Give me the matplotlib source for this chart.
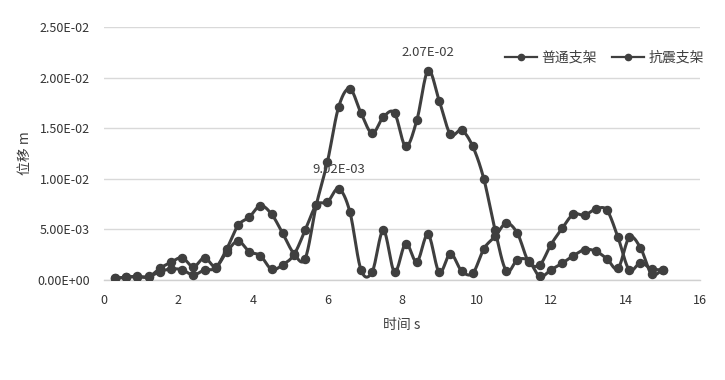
import numpy as np
import matplotlib
matplotlib.use("Agg")
import matplotlib.pyplot as plt
from matplotlib.ticker import FuncFormatter

plt.rcParams['font.family'] = ['Noto Sans CJK SC', 'DejaVu Sans']

# time (s)
time_s = [0.3, 0.6, 0.9, 1.2, 1.5, 1.8, 2.1, 2.4, 2.7, 3.0,
          3.3, 3.6, 3.9, 4.2, 4.5, 4.8, 5.1, 5.4, 5.7, 6.0,
          6.3, 6.6, 6.9, 7.2, 7.5, 7.8, 8.1, 8.4, 8.7, 9.0,
          9.3, 9.6, 9.9, 10.2, 10.5, 10.8, 11.1, 11.4, 11.7, 12.0,
          12.3, 12.6, 12.9, 13.2, 13.5, 13.8, 14.1, 14.4, 14.7, 15.0]

# displacement in units of 1e-3 m
ordinary_e3 = [0.15, 0.3, 0.3, 0.35, 0.8, 1.1, 1.0, 0.5, 1.0, 1.2,
               3.1, 5.4, 6.2, 7.34, 6.5, 4.6, 2.6, 2.1, 7.4, 11.7,
               17.1, 18.9, 16.5, 14.5, 16.1, 16.5, 13.2, 15.8, 20.7, 17.7,
               14.4, 14.8, 13.2, 9.95, 4.9, 0.9, 2.0, 1.9, 0.35, 1.0,
               1.65, 2.4, 3.0, 2.85, 2.1, 1.15, 4.2, 3.2, 0.6, 1.0]
seismic_e3 = [0.15, 0.3, 0.35, 0.3, 1.15, 1.75, 2.2, 1.3, 2.2, 1.3,
              2.8, 3.85, 2.8, 2.4, 1.06, 1.5, 2.5, 4.9, 7.4, 7.7,
              9.02, 6.75, 1.0, 0.8, 4.9, 0.8, 3.6, 1.8, 4.5, 0.76,
              2.6, 0.9, 0.66, 3.1, 4.3, 5.6, 4.6, 1.8, 1.5, 3.5,
              5.1, 6.5, 6.4, 7.0, 6.9, 4.2, 1.0, 1.7, 1.1, 1.0]

series_names = ['普通支架', '抗震支架']
x_ticks = [0, 2, 4, 6, 8, 10, 12, 14, 16]
y_ticks = [0.0, 0.005, 0.01, 0.015, 0.02, 0.025]
x_label = '时间 s'
y_label = '位移 m'

color = '#3f3f3f'


def smooth(x, y, n=16, tension=0.5):
    """Catmull-Rom style smoothing (like Excel's smoothed line)."""
    x = np.asarray(x, float)
    y = np.asarray(y, float)
    px = np.concatenate([[2 * x[0] - x[1]], x, [2 * x[-1] - x[-2]]])
    py = np.concatenate([[2 * y[0] - y[1]], y, [2 * y[-1] - y[-2]]])
    xs, ys = [], []
    s = np.linspace(0, 1, n, endpoint=False)
    for i in range(1, len(px) - 2):
        p0x, p1x, p2x, p3x = px[i - 1], px[i], px[i + 1], px[i + 2]
        p0y, p1y, p2y, p3y = py[i - 1], py[i], py[i + 1], py[i + 2]
        m1x, m2x = tension * (p2x - p0x), tension * (p3x - p1x)
        m1y, m2y = tension * (p2y - p0y), tension * (p3y - p1y)
        h00 = 2 * s**3 - 3 * s**2 + 1
        h10 = s**3 - 2 * s**2 + s
        h01 = -2 * s**3 + 3 * s**2
        h11 = s**3 - s**2
        xs.append(h00 * p1x + h10 * m1x + h01 * p2x + h11 * m2x)
        ys.append(h00 * p1y + h10 * m1y + h01 * p2y + h11 * m2y)
    xs.append([x[-1]])
    ys.append([y[-1]])
    return np.concatenate(xs), np.concatenate(ys)


fig = plt.figure(figsize=(7.25, 3.8), dpi=100)
ax = fig.add_axes([0.1434, 0.2632, 0.8221, 0.6657])

handles = []
for name, vals in zip(series_names, [ordinary_e3, seismic_e3]):
    v = np.asarray(vals) * 1e-3
    sx, sy = smooth(time_s, v)
    ax.plot(sx, sy, color=color, lw=2.2, solid_capstyle='round', zorder=3)
    ax.plot(time_s, v, 'o', color=color, ms=5.8, zorder=4)
    h, = ax.plot([], [], color=color, lw=1.6, marker='o', ms=4.5)
    h.set_label(name)
    handles.append(h)

# data labels for maxima
a = np.asarray(ordinary_e3) * 1e-3
b = np.asarray(seismic_e3) * 1e-3
ia = int(np.argmax(a))
ib = int(np.argmax(b))
ax.annotate(f"{a[ia]:.2E}", (time_s[ia], a[ia]), xytext=(0, 8),
            textcoords='offset points', ha='center', va='bottom',
            fontsize=9.5, color='#404040')
ax.annotate(f"{b[ib]:.2E}", (time_s[ib], b[ib]), xytext=(0, 9),
            textcoords='offset points', ha='center', va='bottom',
            fontsize=9.5, color='#404040')

ax.set_xlim(0, 16)
ax.set_ylim(0, 0.025)
ax.set_xticks(x_ticks)
ax.set_yticks(y_ticks)
ax.yaxis.set_major_formatter(FuncFormatter(lambda v, p: f"{v:.2E}"))
ax.tick_params(axis='both', length=0, colors='#333333')
ax.tick_params(axis='x', pad=10, labelsize=9)
ax.tick_params(axis='y', pad=10, labelsize=9)
ax.grid(axis='y', color='#d9d9d9', lw=1.0)
ax.set_axisbelow(True)
for s in ['top', 'right', 'left']:
    ax.spines[s].set_visible(False)
ax.spines['bottom'].set_color('#d0d0d0')
ax.spines['bottom'].set_linewidth(1.0)

ax.set_xlabel(x_label, fontsize=10, color='#404040', labelpad=8)
ax.set_ylabel(y_label, fontsize=10, color='#404040', labelpad=4)

ax.legend(handles=handles, loc='center', bbox_to_anchor=(0.84, 0.88),
          ncol=2, frameon=False, fontsize=10, handlelength=2.3,
          columnspacing=1.1, handletextpad=0.3, labelcolor='#404040')

fig.savefig('out.png', dpi=100)
